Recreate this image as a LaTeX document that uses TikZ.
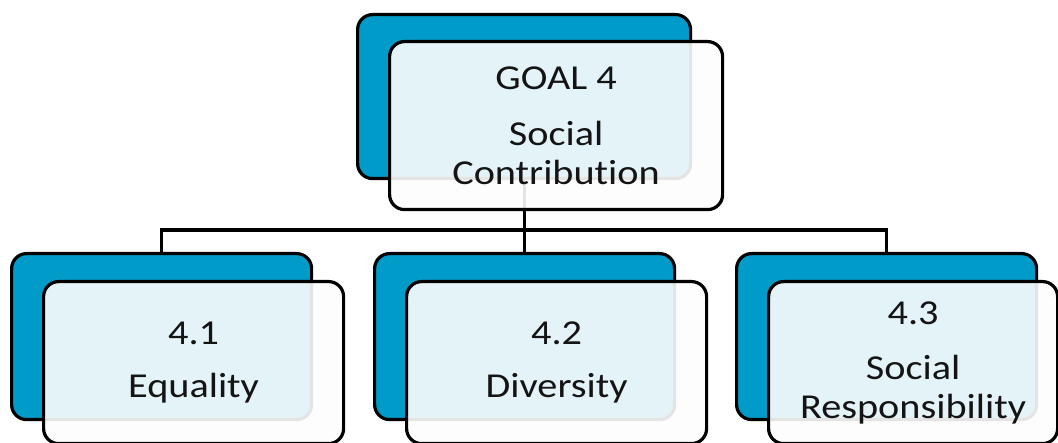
\documentclass[tikz,border=0pt]{standalone}
\usepackage{fontspec}
\setmainfont{Carlito}[FakeStretch=1.15, Ligatures={NoCommon}]
\definecolor{boxblue}{RGB}{0,155,200}
\definecolor{boxfront}{RGB}{253,253,253}
\begin{document}
\begin{tikzpicture}[x=1pt,y=1pt,
  backbox/.style={draw=black, line width=3.2pt, fill=boxblue, rounded corners=15pt,
    anchor=north west, inner sep=0pt, minimum width=300pt, minimum height=166pt},
  frontbox/.style={draw=black, line width=3.2pt, fill=boxfront, fill opacity=0.9,
    text opacity=1, rounded corners=15pt, anchor=north west, inner sep=0pt,
    minimum width=300pt, minimum height=162pt, align=center,
    font=\fontsize{35}{39}\selectfont, text=black!92},
  link/.style={draw=black, line width=3.2pt}]
\useasboundingbox (0,0) rectangle (1058,443);
% back boxes
\node[backbox, minimum width=333pt, minimum height=164pt] (topB) at (356,430) {};
\node[backbox] (aB) at (10,191) {};
\node[backbox] (bB) at (373,191) {};
\node[backbox] (cB) at (735,191) {};
% connectors
\coordinate (bus) at (0,213);
\draw[link] (topB.south) -- (topB.south |- bus);
\draw[link] (aB.north) |- (bus -| cB.north) -- (cB.north);
\draw[link] (bus -| bB.north) -- (bB.north);
% front boxes
\node[frontbox, minimum width=333pt, minimum height=168pt] (topF) at (388,403)
  {GOAL 4\\[17pt]Social\\Contribution};
\node[frontbox] (aF) at (42,163) {4.1\\[14pt]Equality};
\node[frontbox] (bF) at (405,163) {4.2\\[14pt]Diversity};
\node[frontbox, minimum width=289pt] (cF) at (767,163) {4.3\\[16pt]Social\\Responsibility};
\end{tikzpicture}
\end{document}
